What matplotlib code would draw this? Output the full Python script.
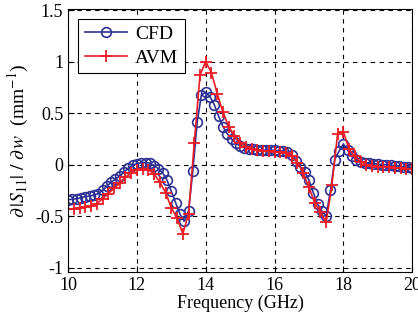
import numpy as np
import matplotlib
matplotlib.use("Agg")
import matplotlib.pyplot as plt

# frequency grids (GHz)
freq_cfd = np.linspace(10, 20, 81)
freq_avm = np.linspace(10, 20, 61)

cfd = [-0.34, -0.335, -0.33, -0.32, -0.31, -0.305, -0.295, -0.28, -0.25, -0.21,
       -0.17, -0.14, -0.11, -0.07, -0.035, -0.005, 0.01, 0.02, 0.02, 0.015,
       -0.01, -0.04, -0.08, -0.15, -0.26, -0.37, -0.48, -0.55, -0.45, -0.06,
       0.41, 0.68, 0.70, 0.66, 0.58, 0.47, 0.37, 0.30, 0.25, 0.21,
       0.18, 0.165, 0.155, 0.15, 0.145, 0.14, 0.14, 0.14, 0.14, 0.135,
       0.13, 0.12, 0.09, 0.04, -0.02, -0.07, -0.15, -0.27, -0.38, -0.45,
       -0.50, -0.25, 0.05, 0.13, 0.20, 0.14, 0.08, 0.05, 0.03, 0.02,
       0.015, 0.01, 0.005, 0.0, 0.0, -0.005, -0.01, -0.015, -0.02, -0.025,
       -0.03]

avm = [-0.43, -0.43, -0.42, -0.415, -0.40, -0.38, -0.33, -0.28, -0.23, -0.18,
       -0.12, -0.08, -0.05, -0.04, -0.05, -0.09, -0.17, -0.27, -0.42, -0.52,
       -0.67, -0.48, 0.21, 0.87, 1.0, 0.89, 0.69, 0.51, 0.37, 0.28,
       0.21, 0.17, 0.15, 0.14, 0.13, 0.13, 0.125, 0.12, 0.11, 0.08,
       0.02, -0.08, -0.22, -0.37, -0.46, -0.56, -0.2, 0.30, 0.32, 0.15,
       0.08, 0.03, 0.0, -0.01, -0.02, -0.02, -0.025, -0.03, -0.03, -0.04,
       -0.045]

xticks = [10, 12, 14, 16, 18, 20]
yticks = [-1, -0.5, 0, 0.5, 1, 1.5]
ytick_labels = ['-1', '-0.5', '0', '0.5', '1', '1.5']

plt.rcParams['font.family'] = ['Liberation Serif', 'DejaVu Serif']
plt.rcParams['mathtext.fontset'] = 'stix'

fig = plt.figure(figsize=(4.18, 3.21), dpi=100)
ax = fig.add_axes([0.163, 0.153, 0.823, 0.819])

ax.plot(freq_cfd, cfd, color='#2E3192', lw=1.2, marker='o', ms=7,
        mfc='none', mew=1.2, label='CFD')
ax.plot(freq_avm, avm, color='#ED1C24', lw=1.2, marker='+', ms=9,
        mew=1.3, label='AVM')

ax.set_xlim(10, 20)
ax.set_ylim(-1.04, 1.51)
ax.set_xticks(xticks)
ax.set_yticks(yticks)
ax.set_yticklabels(ytick_labels)
ax.tick_params(direction='in', labelsize=13, length=4)
ax.grid(True, color='black', linestyle=(0, (4, 4)), linewidth=0.8)

ax.set_xlabel('Frequency (GHz)', fontsize=13, labelpad=1)
ax.set_ylabel(r'$\partial\,|S_{11}|\ /\ \partial\,w$  (mm$^{-1}$)', fontsize=14, labelpad=3)

leg = ax.legend(loc='upper left', fontsize=14, fancybox=False, framealpha=1,
                edgecolor='black', handlelength=2.2, handletextpad=0.4,
                borderaxespad=0.5, borderpad=0.35, labelspacing=0.3)
leg.get_frame().set_linewidth(0.8)

fig.savefig('out.png', dpi=100)
